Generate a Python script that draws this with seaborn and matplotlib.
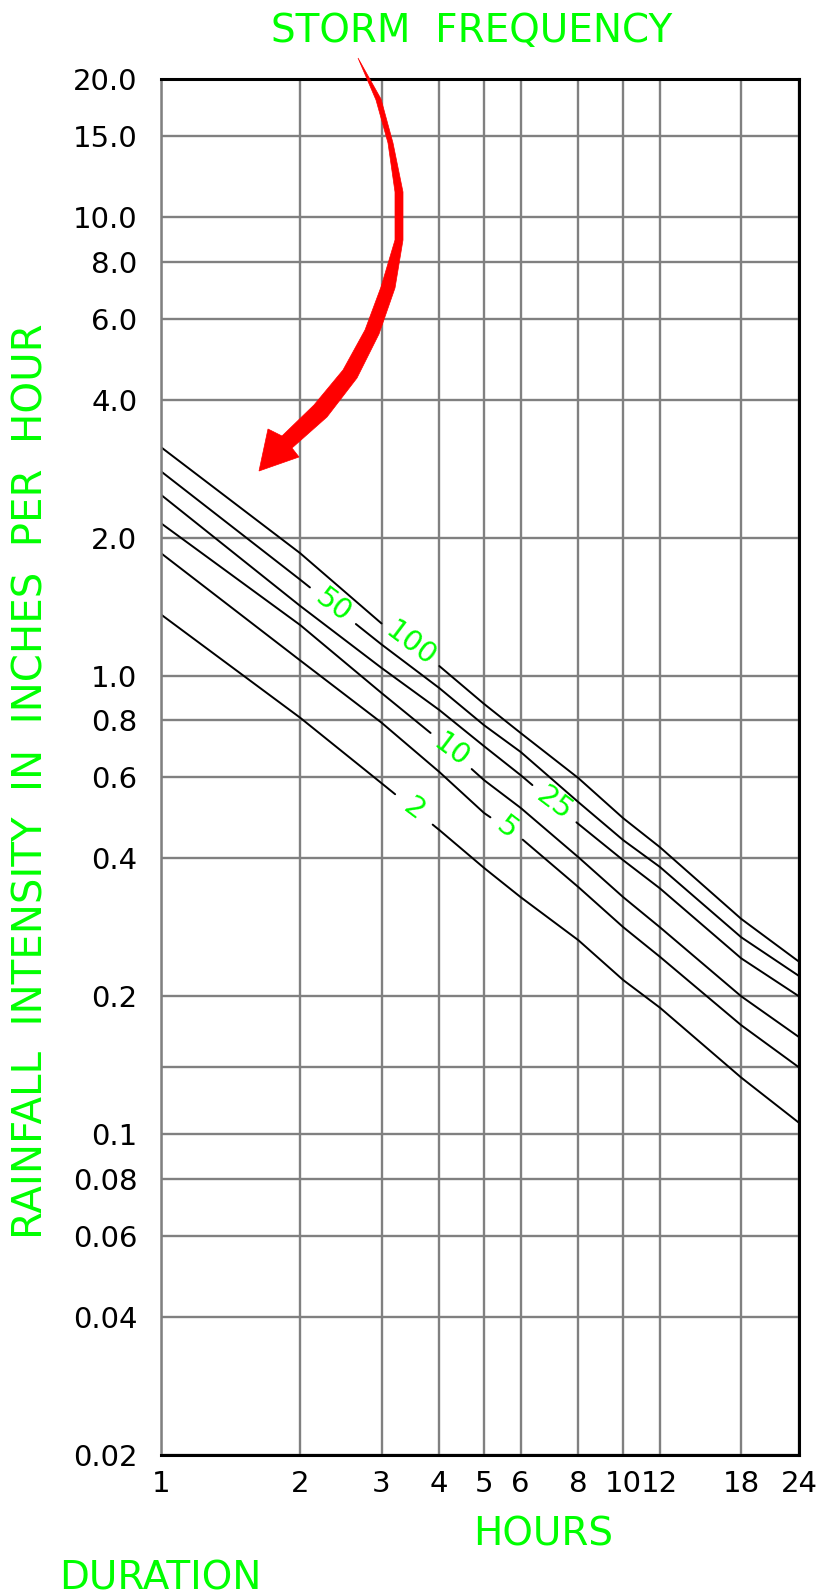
import numpy as np
import pandas as pd
import matplotlib
matplotlib.use("Agg")
import matplotlib.pyplot as plt
import seaborn as sns
from matplotlib.patches import Polygon

# ---------------- data ----------------
hours = [1, 2, 3, 4, 5, 6, 8, 10, 12, 18, 24]
freq_labels = ["100", "50", "25", "10", "5", "2"]
i100 = [3.15, 1.85, 1.30, 1.05, 0.868, 0.750, 0.598, 0.489, 0.423, 0.295, 0.238]
i50 = [2.79, 1.62, 1.17, 0.940, 0.780, 0.682, 0.530, 0.438, 0.383, 0.269, 0.2215]
i25 = [2.48, 1.42, 1.04, 0.842, 0.702, 0.607, 0.475, 0.396, 0.344, 0.242, 0.200]
i10 = [2.15, 1.29, 0.917, 0.724, 0.592, 0.515, 0.402, 0.329, 0.283, 0.200, 0.163]
i5 = [1.85, 1.08, 0.79, 0.617, 0.502, 0.443, 0.346, 0.283, 0.244, 0.173, 0.140]
i2 = [1.36, 0.81, 0.583, 0.461, 0.381, 0.329, 0.265, 0.217, 0.189, 0.133, 0.106]
series = [i100, i50, i25, i10, i5, i2]
# label gap (hours) along each curve where the frequency label sits
label_gaps = [(3.0, 4.0), (2.10, 2.64), (6.36, 7.92), (3.83, 4.70), (5.16, 6.06), (3.21, 3.87)]

x_ticks = [1, 2, 3, 4, 5, 6, 8, 10, 12, 18, 24]
x_ticklabels = ["1", "2", "3", "4", "5", "6", "8", "10", "12", "18", "24"]
y_ticks = [0.02, 0.04, 0.06, 0.08, 0.1, 0.14, 0.2, 0.4, 0.6, 0.8, 1.0, 2.0, 4.0, 6.0, 8.0, 10.0, 15.0, 20.0]
y_ticklabels = ["0.02", "0.04", "0.06", "0.08", "0.1", "", "0.2", "0.4", "0.6", "0.8", "1.0", "2.0",
                "4.0", "6.0", "8.0", "10.0", "15.0", "20.0"]

GREEN = "#00FF00"
RED = "#FF0000"
GRID = "#808080"


def log_interp(x, xs, ys):
    return float(np.exp(np.interp(np.log(x), np.log(xs), np.log(ys))))


# build segments (curve broken where the label is written)
rows = []
for lab, ys, (g0, g1) in zip(freq_labels, series, label_gaps):
    seg_a = [(h, v) for h, v in zip(hours, ys) if h < g0] + [(g0, log_interp(g0, hours, ys))]
    seg_b = [(g1, log_interp(g1, hours, ys))] + [(h, v) for h, v in zip(hours, ys) if h > g1]
    for k, seg in enumerate([seg_a, seg_b]):
        for h, v in seg:
            rows.append({"hours": h, "intensity": v, "freq": lab, "seg": f"{lab}_{k}"})
df = pd.DataFrame(rows)

# ---------------- figure ----------------
W, H = 817, 1596
sns.set_theme(style="white")
plt.rcParams["font.family"] = ["DejaVu Sans"]
fig = plt.figure(figsize=(W / 100, H / 100), dpi=100)
ax = fig.add_axes([161 / W, 1 - 1455 / H, (799 - 161) / W, (1455 - 79) / H])
ax.set_xscale("log")
ax.set_yscale("log")

sns.lineplot(data=df, x="hours", y="intensity", units="seg", estimator=None,
             color="black", lw=1.4, ax=ax, legend=False, zorder=1)

ax.set_xlim(1, 24)
ax.set_ylim(0.02, 20)
ax.set_xticks(x_ticks, x_ticklabels)
ax.set_yticks(y_ticks, y_ticklabels)
ax.xaxis.set_minor_locator(matplotlib.ticker.NullLocator())
ax.yaxis.set_minor_locator(matplotlib.ticker.NullLocator())
ax.tick_params(axis="both", length=0, labelsize=21, labelcolor="black")
ax.tick_params(axis="y", pad=17)
ax.tick_params(axis="x", pad=11)
ax.grid(True, which="major", color=GRID, lw=1.7)
ax.set_axisbelow(True)
ax.set_xlabel("")
ax.set_ylabel("")

for side in ["top", "bottom", "right"]:
    ax.spines[side].set_color("black")
    ax.spines[side].set_linewidth(2.2)
ax.spines["left"].set_color(GRID)
ax.spines["left"].set_linewidth(1.8)

# frequency labels on curves
for lab, ys, (g0, g1) in zip(freq_labels, series, label_gaps):
    xm = float(np.sqrt(g0 * g1))
    ym = log_interp(xm, hours, ys)
    ax.text(xm, ym, lab, color=GREEN, fontsize=21, rotation=-37, rotation_mode="anchor",
            ha="center", va="center", zorder=3)

# titles
fig.text(472 / W, 1 - 42 / H, "STORM  FREQUENCY", color=GREEN, fontsize=28,
         ha="center", va="baseline")
fig.text(543 / W, 1 - 1545 / H, "HOURS", color=GREEN, fontsize=28, ha="center", va="baseline")
fig.text(160 / W, 1 - 1590 / H, "DURATION", color=GREEN, fontsize=28, ha="center", va="baseline")
fig.text(43 / W, 1 - 781 / H, "RAINFALL  INTENSITY  IN  INCHES  PER  HOUR", color=GREEN,
         fontsize=29, rotation=90, rotation_mode="anchor", ha="center", va="baseline")

# red curved arrow (decoration), outline in pixel coordinates
arrow_px = [(358, 58), (381, 99), (393, 143), (403, 192), (403, 240), (395, 288), (379, 334),
            (357, 378), (327, 417), (292, 448), (299, 457), (259, 471), (268, 429),
            (282, 436), (314, 405), (343, 370), (365, 330), (381, 287), (395, 240),
            (395, 192), (388, 143), (376, 100), (358, 58)]
poly = Polygon([(x / W, 1 - y / H) for x, y in arrow_px], closed=True,
               facecolor=RED, edgecolor=RED, lw=0.5, transform=fig.transFigure, zorder=5)
fig.patches.append(poly)

fig.savefig("out.png", dpi=100)
